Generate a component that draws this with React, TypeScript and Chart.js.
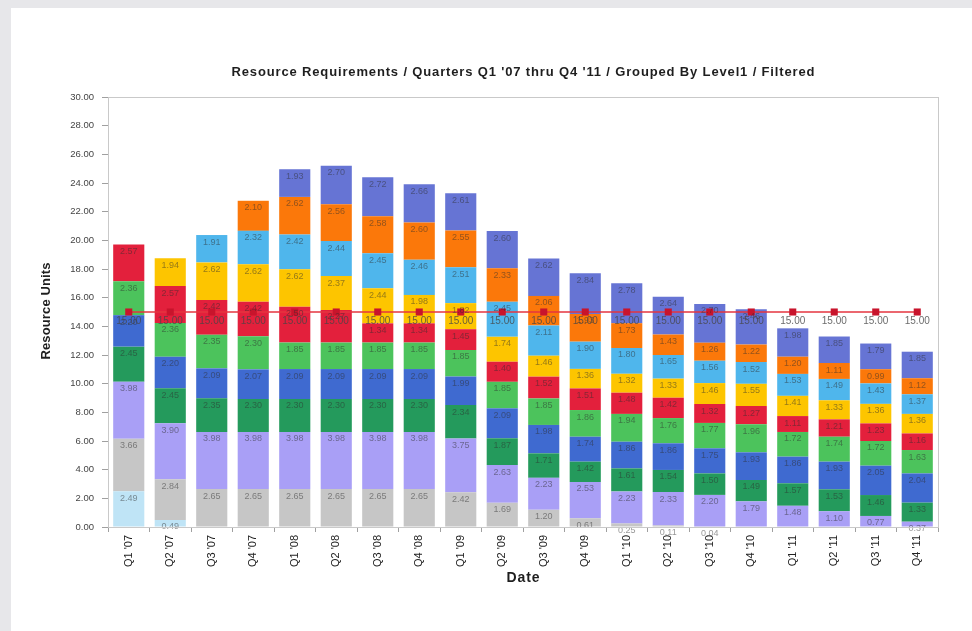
import React, { useEffect, useRef } from "react";
import { Chart, registerables } from "chart.js";

Chart.register(...registerables);

// Quarters on the category axis
const quarters = [
  "Q1 '07", "Q2 '07", "Q3 '07", "Q4 '07",
  "Q1 '08", "Q2 '08", "Q3 '08", "Q4 '08",
  "Q1 '09", "Q2 '09", "Q3 '09", "Q4 '09",
  "Q1 '10", "Q2 '10", "Q3 '10", "Q4 '10",
  "Q1 '11", "Q2 '11", "Q3 '11", "Q4 '11",
];

// Resource units per Level1 group, stacked bottom to top
const paleBlueUnits = [2.49, 0.49, 0, 0, 0, 0, 0, 0, 0, 0, 0, 0, 0, 0, 0, 0, 0, 0, 0, 0];
const greyUnits = [3.66, 2.84, 2.65, 2.65, 2.65, 2.65, 2.65, 2.65, 2.42, 1.69, 1.20, 0.61, 0.25, 0.11, 0.04, 0, 0, 0, 0, 0];
const lavenderUnits = [3.98, 3.90, 3.98, 3.98, 3.98, 3.98, 3.98, 3.98, 3.75, 2.63, 2.23, 2.53, 2.23, 2.33, 2.20, 1.79, 1.48, 1.10, 0.77, 0.37];
const darkGreenUnits = [2.45, 2.45, 2.35, 2.30, 2.30, 2.30, 2.30, 2.30, 2.34, 1.87, 1.71, 1.42, 1.61, 1.54, 1.50, 1.49, 1.57, 1.53, 1.46, 1.33];
const blueUnits = [2.20, 2.20, 2.09, 2.07, 2.09, 2.09, 2.09, 2.09, 1.99, 2.09, 1.98, 1.74, 1.86, 1.86, 1.75, 1.93, 1.86, 1.93, 2.05, 2.04];
const greenUnits = [2.36, 2.36, 2.35, 2.30, 1.85, 1.85, 1.85, 1.85, 1.85, 1.85, 1.85, 1.86, 1.94, 1.76, 1.77, 1.96, 1.72, 1.74, 1.72, 1.63];
const redUnits = [2.57, 2.57, 2.42, 2.42, 2.50, 2.27, 1.34, 1.34, 1.45, 1.40, 1.52, 1.51, 1.48, 1.42, 1.32, 1.27, 1.11, 1.21, 1.23, 1.16];
const yellowUnits = [0, 1.94, 2.62, 2.62, 2.62, 2.37, 2.44, 1.98, 1.82, 1.74, 1.46, 1.36, 1.32, 1.33, 1.46, 1.55, 1.41, 1.33, 1.36, 1.36];
const skyUnits = [0, 0, 1.91, 2.32, 2.42, 2.44, 2.45, 2.46, 2.51, 2.45, 2.11, 1.90, 1.80, 1.65, 1.56, 1.52, 1.53, 1.49, 1.43, 1.37];
const orangeUnits = [0, 0, 0, 2.10, 2.62, 2.56, 2.58, 2.60, 2.55, 2.33, 2.06, 1.93, 1.73, 1.43, 1.26, 1.22, 1.20, 1.11, 0.99, 1.12];
const slateUnits = [0, 0, 0, 0, 1.93, 2.70, 2.72, 2.66, 2.61, 2.60, 2.62, 2.84, 2.78, 2.64, 2.70, 2.46, 1.98, 1.85, 1.79, 1.85];

// Capacity threshold drawn as a line across all quarters
const capacityUnits = [15, 15, 15, 15, 15, 15, 15, 15, 15, 15, 15, 15, 15, 15, 15, 15, 15, 15, 15, 15];

const yAxisMax = 30;
const yAxisStep = 2;

const chartTitle = "Resource Requirements / Quarters Q1 '07 thru Q4 '11 / Grouped By Level1 / Filtered";
const yAxisTitle = "Resource Units";
const xAxisTitle = "Date";

const stackSeries = [
  { label: "Group 1", data: paleBlueUnits, color: "#bfe4f6" },
  { label: "Group 2", data: greyUnits, color: "#c6c6c6" },
  { label: "Group 3", data: lavenderUnits, color: "#a99ff6" },
  { label: "Group 4", data: darkGreenUnits, color: "#249a5c" },
  { label: "Group 5", data: blueUnits, color: "#3f6ad0" },
  { label: "Group 6", data: greenUnits, color: "#4cc35c" },
  { label: "Group 7", data: redUnits, color: "#e3203c" },
  { label: "Group 8", data: yellowUnits, color: "#fdc500" },
  { label: "Group 9", data: skyUnits, color: "#4fb6ec" },
  { label: "Group 10", data: orangeUnits, color: "#fb780a" },
  { label: "Group 11", data: slateUnits, color: "#6674d4" },
];

const SANS = '"Liberation Sans", Arial, Helvetica, sans-serif';
const NARROW = '"Liberation Sans Narrow", "Arial Narrow", "Liberation Sans", Arial, sans-serif';

// Draws text spread out to a given overall width
function drawSpacedText(ctx: any, text: string, x: number, y: number, targetWidth: number) {
  ctx.letterSpacing = "0px";
  const w = ctx.measureText(text).width;
  const spacing = Math.max(0, (targetWidth - w) / Math.max(1, text.length - 1));
  ctx.letterSpacing = `${spacing.toFixed(2)}px`;
  ctx.fillText(text, x + spacing / 2, y);
  ctx.letterSpacing = "0px";
}

const frameAndText = {
  id: "frameAndText",
  beforeDraw(chart: any) {
    const { ctx, width, height } = chart;
    ctx.save();
    ctx.fillStyle = "#e7e7ea";
    ctx.fillRect(0, 0, width, height);
    ctx.fillStyle = "#ffffff";
    ctx.fillRect(11, 8, width - 11, height - 8);
    ctx.restore();
  },
  afterDatasetsDraw(chart: any) {
    const { ctx } = chart;
    ctx.save();
    ctx.textAlign = "center";
    ctx.textBaseline = "middle";
    ctx.font = `9px ${SANS}`;
    ctx.fillStyle = "rgba(45,45,45,0.5)";
    chart.data.datasets.forEach((ds: any, i: number) => {
      if (ds.type === "line") return;
      const meta = chart.getDatasetMeta(i);
      meta.data.forEach((bar: any, j: number) => {
        const v = ds.data[j];
        if (!v) return;
        const top = Math.min(bar.y, bar.base);
        ctx.fillText(v.toFixed(2), bar.x, top + 7);
      });
    });
    // threshold values under each marker
    const lineIndex = chart.data.datasets.findIndex((d: any) => d.type === "line");
    if (lineIndex >= 0) {
      const meta = chart.getDatasetMeta(lineIndex);
      ctx.font = `10px ${SANS}`;
      ctx.fillStyle = "rgba(70,70,70,0.8)";
      meta.data.forEach((pt: any, j: number) => {
        const v = chart.data.datasets[lineIndex].data[j];
        ctx.fillText(v.toFixed(2), pt.x, pt.y + 9);
      });
    }
    ctx.restore();
  },
  afterDraw(chart: any) {
    const { ctx, chartArea } = chart;
    ctx.save();
    ctx.strokeStyle = "#c9c9c9";
    ctx.lineWidth = 1;
    ctx.strokeRect(chartArea.left + 0.5, chartArea.top + 0.5, chartArea.right - chartArea.left, chartArea.bottom - chartArea.top);
    const cx = (chartArea.left + chartArea.right) / 2;
    ctx.fillStyle = "#1e1e1e";
    ctx.textAlign = "center";
    ctx.textBaseline = "middle";
    ctx.font = `bold 13px ${NARROW}`;
    drawSpacedText(ctx, chartTitle, cx, 72, 583);
    ctx.font = `bold 14px ${NARROW}`;
    drawSpacedText(ctx, xAxisTitle, cx, 578, 33);
    ctx.translate(46, 311);
    ctx.rotate(-Math.PI / 2);
    ctx.font = `bold 13px ${NARROW}`;
    drawSpacedText(ctx, yAxisTitle, 0, 0, 97);
    ctx.restore();
  },
};

export default function App() {
  const canvasRef = useRef<HTMLCanvasElement | null>(null);

  useEffect(() => {
    const canvas = canvasRef.current;
    if (!canvas) return;
    const datasets: any[] = stackSeries.map((s) => ({
      type: "bar",
      label: s.label,
      data: s.data,
      backgroundColor: s.color,
      borderWidth: 0,
      barPercentage: 0.75,
      categoryPercentage: 1,
      stack: "levels",
      order: 2,
    }));
    datasets.push({
      type: "line",
      label: "Capacity",
      data: capacityUnits,
      borderColor: "#e5353f",
      borderWidth: 1.5,
      pointStyle: "rect",
      pointRadius: 5,
      pointBackgroundColor: "#c8142c",
      pointBorderColor: "#c8142c",
      pointBorderWidth: 0,
      stack: "capacity",
      order: 0,
    });

    const chart = new Chart(canvas, {
      type: "bar",
      data: { labels: quarters, datasets },
      options: {
        responsive: false,
        animation: false,
        devicePixelRatio: 1,
        layout: { padding: { top: 97, right: 34, left: 0, bottom: 0 } },
        plugins: {
          legend: { display: false },
          title: { display: false },
          tooltip: { enabled: false },
        },
        scales: {
          x: {
            stacked: true,
            grid: { display: true, drawOnChartArea: false, tickLength: 5, color: "#a0a0a0" },
            border: { color: "#c9c9c9" },
            ticks: {
              autoSkip: false,
              minRotation: 90,
              maxRotation: 90,
              padding: 3,
              color: "#222",
              font: { family: SANS, size: 11 },
            },
            afterFit: (scale: any) => {
              scale.height = 104;
            },
          },
          y: {
            stacked: true,
            min: 0,
            max: yAxisMax,
            grid: { display: true, drawOnChartArea: false, tickLength: 6, color: "#a0a0a0" },
            border: { color: "#c9c9c9" },
            ticks: {
              stepSize: yAxisStep,
              padding: 8,
              color: "#444",
              font: { family: SANS, size: 9.5 },
              callback: (v: any) => Number(v).toFixed(2),
            },
            afterFit: (scale: any) => {
              scale.width = 108;
            },
          },
        },
      },
      plugins: [frameAndText],
    });
    return () => chart.destroy();
  }, []);

  return (
    <div style={{ position: "fixed", left: 0, top: 0, width: 972, height: 631 }}>
      <canvas ref={canvasRef} width={972} height={631} style={{ display: "block" }} />
    </div>
  );
}
